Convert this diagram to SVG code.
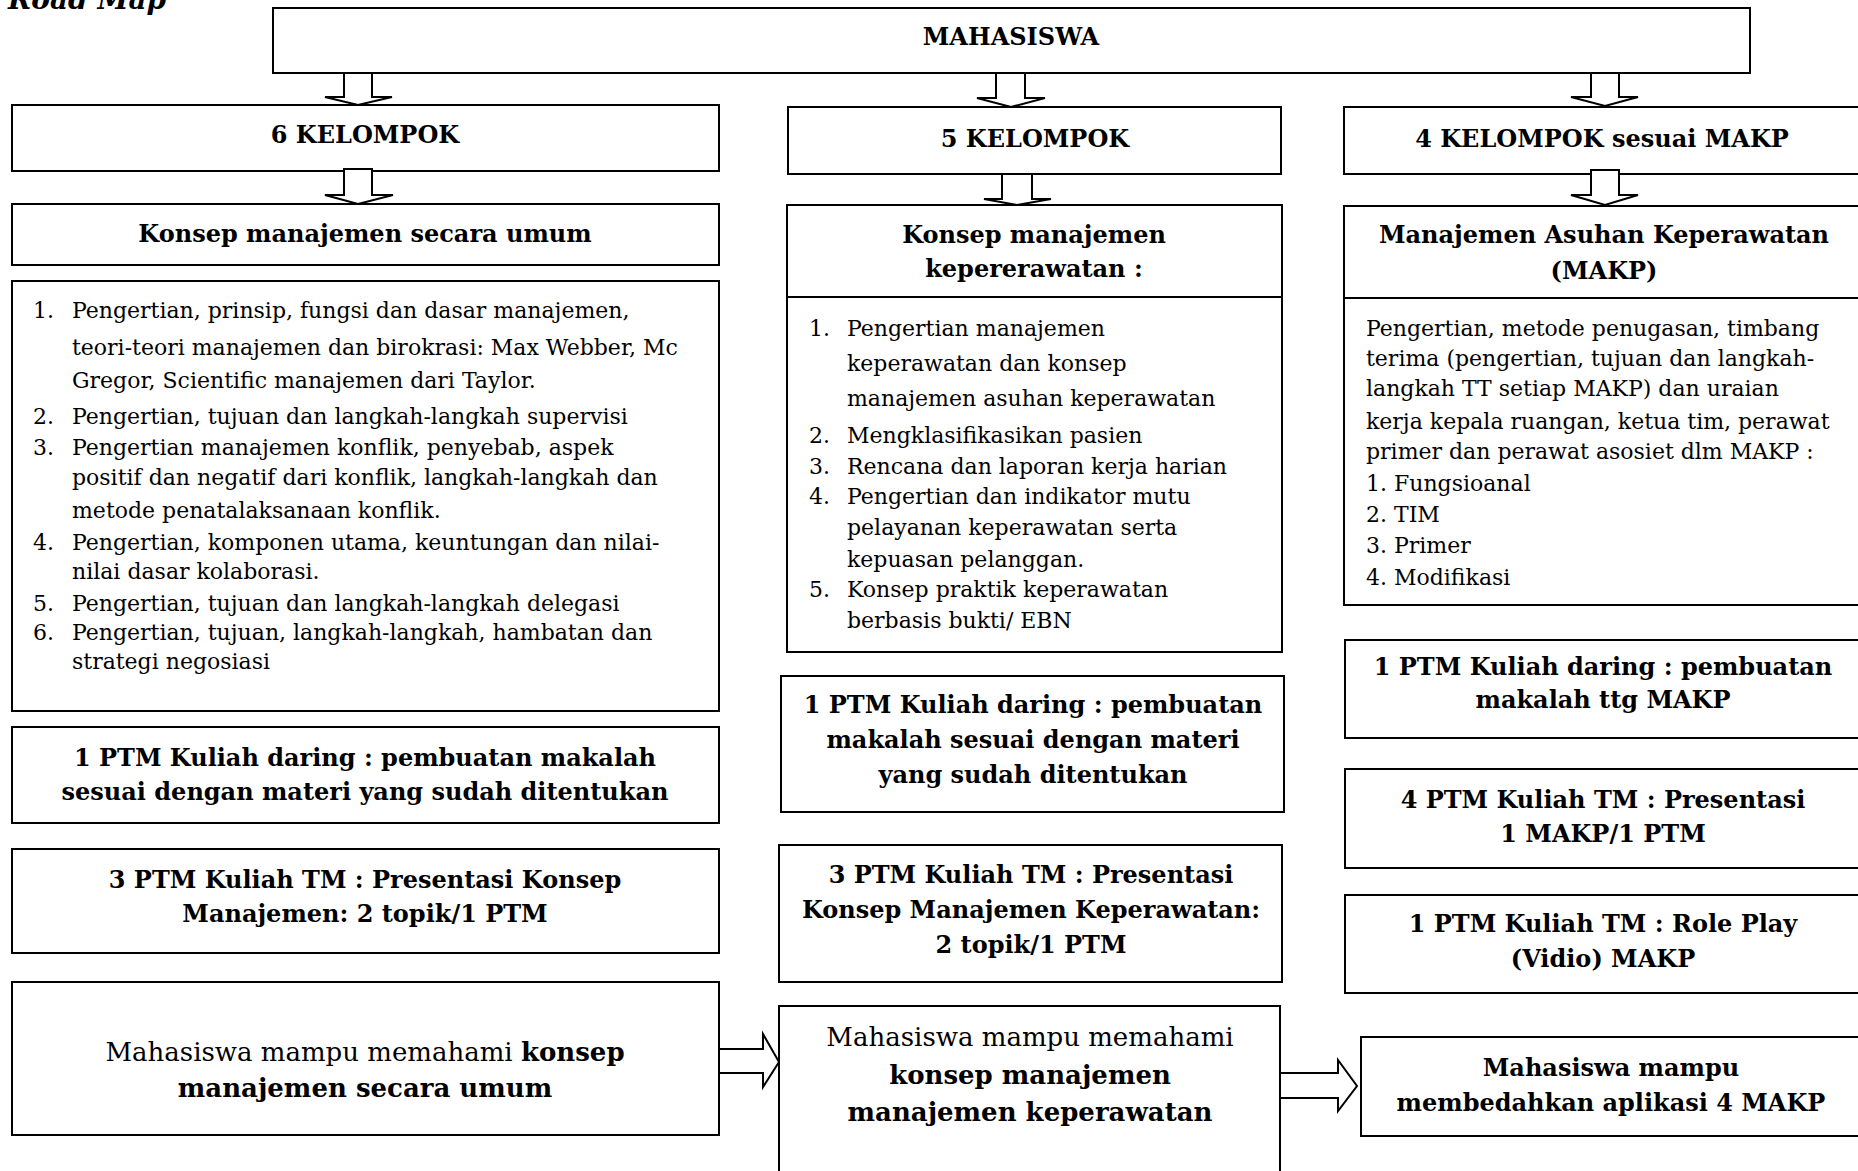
<svg xmlns="http://www.w3.org/2000/svg" width="1858" height="1171" viewBox="0 0 1858 1171">
<style>
rect.b{fill:#fff;stroke:#000;stroke-width:2}
line.d{stroke:#000;stroke-width:2}
.ar{fill:#fff;stroke:#000;stroke-width:2;stroke-linejoin:miter}
text{font-family:"DejaVu Serif","Liberation Serif",serif;fill:#000}
.t{font-size:22px}
.h{font-size:24px;font-weight:bold;text-anchor:middle}
.c{font-size:26px;text-anchor:middle}
.cb{font-weight:bold}
.m{text-anchor:middle}
</style>
<rect width="1858" height="1171" fill="#fff"/>
<text x="8" y="9" style="font-size:28px;font-weight:bold;font-style:italic">Road Map</text>

<g id="mahasiswa">
<rect class="b" x="273" y="8" width="1477" height="65"/>
<text class="h" x="1011" y="45">MAHASISWA</text>
</g>

<g id="kel6">
<rect class="b" x="12" y="105" width="707" height="66"/>
<text class="h" x="365" y="143">6 KELOMPOK</text>
</g>
<g id="kel5">
<rect class="b" x="788" y="107" width="493" height="67"/>
<text class="h" x="1035" y="147">5 KELOMPOK</text>
</g>
<g id="kel4">
<rect class="b" x="1344" y="107" width="530" height="67"/>
<text class="h" x="1602" y="147">4 KELOMPOK sesuai MAKP</text>
</g>

<g id="konsep-umum">
<rect class="b" x="12" y="204" width="707" height="61"/>
<text class="h" x="365" y="242">Konsep manajemen secara umum</text>
</g>

<g id="list-umum">
<rect class="b" x="12" y="281" width="707" height="430"/>
<g class="t">
<text x="33" y="318">1.</text><text x="72" y="318">Pengertian, prinsip, fungsi dan dasar manajemen,</text>
<text x="72" y="355">teori-teori manajemen dan birokrasi: Max Webber, Mc</text>
<text x="72" y="388">Gregor, Scientific manajemen dari Taylor.</text>
<text x="33" y="424">2.</text><text x="72" y="424">Pengertian, tujuan dan langkah-langkah supervisi</text>
<text x="33" y="455">3.</text><text x="72" y="455">Pengertian manajemen konflik, penyebab, aspek</text>
<text x="72" y="485">positif dan negatif dari konflik, langkah-langkah dan</text>
<text x="72" y="518">metode penatalaksanaan konflik.</text>
<text x="33" y="550">4.</text><text x="72" y="550">Pengertian, komponen utama, keuntungan dan nilai-</text>
<text x="72" y="579">nilai dasar kolaborasi.</text>
<text x="33" y="611">5.</text><text x="72" y="611">Pengertian, tujuan dan langkah-langkah delegasi</text>
<text x="33" y="640">6.</text><text x="72" y="640">Pengertian, tujuan, langkah-langkah, hambatan dan</text>
<text x="72" y="669">strategi negosiasi</text>
</g>
</g>

<g id="konsep-keperawatan">
<rect class="b" x="787" y="205" width="495" height="447"/>
<line class="d" x1="787" y1="297" x2="1282" y2="297"/>
<text class="h" x="1034" y="243">Konsep manajemen</text>
<text class="h" x="1034" y="277">kepererawatan :</text>
<g class="t">
<text x="809" y="336">1.</text><text x="847" y="336">Pengertian manajemen</text>
<text x="847" y="371">keperawatan dan konsep</text>
<text x="847" y="406">manajemen asuhan keperawatan</text>
<text x="809" y="443">2.</text><text x="847" y="443">Mengklasifikasikan pasien</text>
<text x="809" y="474">3.</text><text x="847" y="474">Rencana dan laporan kerja harian</text>
<text x="809" y="504">4.</text><text x="847" y="504">Pengertian dan indikator mutu</text>
<text x="847" y="535">pelayanan keperawatan serta</text>
<text x="847" y="567">kepuasan pelanggan.</text>
<text x="809" y="597">5.</text><text x="847" y="597">Konsep praktik keperawatan</text>
<text x="847" y="628">berbasis bukti/ EBN</text>
</g>
</g>

<g id="makp">
<rect class="b" x="1344" y="206" width="530" height="399"/>
<line class="d" x1="1344" y1="298" x2="1874" y2="298"/>
<text class="h" x="1604" y="243">Manajemen Asuhan Keperawatan</text>
<text class="h" x="1604" y="279">(MAKP)</text>
<g class="t">
<text x="1366" y="336">Pengertian, metode penugasan, timbang</text>
<text x="1366" y="366">terima (pengertian, tujuan dan langkah-</text>
<text x="1366" y="396">langkah TT setiap MAKP) dan uraian</text>
<text x="1366" y="429">kerja kepala ruangan, ketua tim, perawat</text>
<text x="1366" y="459">primer dan perawat asosiet dlm MAKP :</text>
<text x="1366" y="491">1. Fungsioanal</text>
<text x="1366" y="522">2. TIM</text>
<text x="1366" y="553">3. Primer</text>
<text x="1366" y="585">4. Modifikasi</text>
</g>
</g>

<g id="daring-1">
<rect class="b" x="12" y="727" width="707" height="96"/>
<text class="h" x="365" y="766">1 PTM Kuliah daring : pembuatan makalah</text>
<text class="h" x="365" y="800">sesuai dengan materi yang sudah ditentukan</text>
</g>
<g id="tm-1">
<rect class="b" x="12" y="849" width="707" height="104"/>
<text class="h" x="365" y="888">3 PTM Kuliah TM : Presentasi Konsep</text>
<text class="h" x="365" y="922">Manajemen: 2 topik/1 PTM</text>
</g>
<g id="hasil-1">
<rect class="b" x="12" y="982" width="707" height="153"/>
<text class="c" x="365" y="1061">Mahasiswa mampu memahami <tspan class="cb">konsep</tspan></text>
<text class="c cb" x="365" y="1097">manajemen secara umum</text>
</g>

<g id="daring-2">
<rect class="b" x="781" y="676" width="503" height="136"/>
<text class="h" x="1033" y="713">1 PTM Kuliah daring : pembuatan</text>
<text class="h" x="1033" y="748">makalah sesuai dengan materi</text>
<text class="h" x="1033" y="783">yang sudah ditentukan</text>
</g>
<g id="tm-2">
<rect class="b" x="779" y="845" width="503" height="137"/>
<text class="h" x="1031" y="883">3 PTM Kuliah TM : Presentasi</text>
<text class="h" x="1031" y="918">Konsep Manajemen Keperawatan:</text>
<text class="h" x="1031" y="953">2 topik/1 PTM</text>
</g>
<g id="hasil-2">
<rect class="b" x="779" y="1006" width="501" height="180"/>
<text class="c" x="1030" y="1046">Mahasiswa mampu memahami</text>
<text class="c cb" x="1030" y="1084">konsep manajemen</text>
<text class="c cb" x="1030" y="1121">manajemen keperawatan</text>
</g>

<g id="daring-3">
<rect class="b" x="1345" y="640" width="530" height="98"/>
<text class="h" x="1603" y="675">1 PTM Kuliah daring : pembuatan</text>
<text class="h" x="1603" y="708">makalah ttg MAKP</text>
</g>
<g id="tm-3">
<rect class="b" x="1345" y="769" width="530" height="99"/>
<text class="h" x="1603" y="808">4 PTM Kuliah TM : Presentasi</text>
<text class="h" x="1603" y="842">1 MAKP/1 PTM</text>
</g>
<g id="roleplay-3">
<rect class="b" x="1345" y="895" width="530" height="98"/>
<text class="h" x="1603" y="932">1 PTM Kuliah TM : Role Play</text>
<text class="h" x="1603" y="967">(Vidio) MAKP</text>
</g>
<g id="hasil-3">
<rect class="b" x="1361" y="1037" width="514" height="99"/>
<text class="h" x="1611" y="1076">Mahasiswa mampu</text>
<text class="h" x="1611" y="1111">membedahkan aplikasi 4 MAKP</text>
</g>

<g id="connectors">
<polygon class="ar" points="344,73 372,73 372,97 392,97 358,105 325,97 344,97"/>
<polygon class="ar" points="996,73 1025,73 1025,98 1045,98 1011,107 977,98 996,98"/>
<polygon class="ar" points="1591,73 1619,73 1619,97 1638,97 1605,106 1571,97 1591,97"/>
<polygon class="ar" points="344,169 372,169 372,195 393,195 358,204 325,195 344,195"/>
<polygon class="ar" points="1002,174 1032,174 1032,199 1051,199 1017,205 984,199 1002,199"/>
<polygon class="ar" points="1591,170 1619,170 1619,195 1638,195 1605,205 1571,195 1591,195"/>
<polygon class="ar" points="719,1049 763,1049 763,1034 779,1062 763,1087 763,1073 719,1073"/>
<polygon class="ar" points="1280,1073 1338,1073 1338,1060 1357,1086 1338,1111 1338,1098 1280,1098"/>
</g>
</svg>
